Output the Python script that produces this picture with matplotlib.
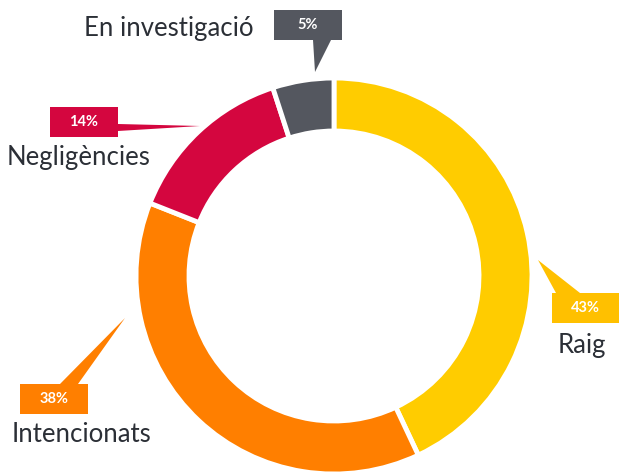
import matplotlib.pyplot as plt
from matplotlib.patches import Rectangle, Polygon

W, H = 619, 474

categories = ['Raig', 'Intencionats', 'Negligències', 'En investigació']
values = [43, 38, 14, 5]
pct_labels = ['43%', '38%', '14%', '5%']
colors = ['#FFCC00', '#FF7F00', '#D4063F', '#54575F']
box_colors = ['#FFC000', '#FF7F00', '#D4063F', '#54575F']

# callout layout in pixels (top-left origin): box (x, y, w, h), pointer tip, pointer base, label pos, label align
callouts = [
    dict(box=(552, 293, 67, 30), tip=(538, 260), base=[(556, 293), (580, 293)],
         label=(558, 346), ha='left'),
    dict(box=(20, 384, 68, 30), tip=(125, 318), base=[(60, 384), (78, 384)],
         label=(12, 434), ha='left'),
    dict(box=(50, 107, 68, 30), tip=(200, 126), base=[(118, 124), (118, 131)],
         label=(7, 157), ha='left'),
    dict(box=(274, 10, 68, 30), tip=(315, 72), base=[(313, 40), (331, 40)],
         label=(253, 28), ha='right'),
]

plt.rcParams['font.family'] = ['Lato', 'DejaVu Sans']

fig = plt.figure(figsize=(W / 100, H / 100), dpi=100)
ax = fig.add_axes([0, 0, 1, 1])

cx, cy, r = 334, 276, 198
ax.pie(values, colors=colors, startangle=90, counterclock=False,
       center=(cx, H - cy), radius=r,
       wedgeprops=dict(width=53, edgecolor='white', linewidth=3.5))

def P(x, y):
    return (x, H - y)

for c, pct, name, bc in zip(callouts, pct_labels, categories, box_colors):
    bx, by, bw, bh = c['box']
    ax.add_patch(Polygon([P(*c['tip']), P(*c['base'][0]), P(*c['base'][1])],
                         closed=True, facecolor=bc, edgecolor='none', zorder=3))
    ax.add_patch(Rectangle(P(bx, by + bh), bw, bh, facecolor=bc, edgecolor='none', zorder=4))
    ax.text(*P(bx + bw / 2, by + bh / 2), pct, color='white', fontsize=10.5,
            fontweight='bold', ha='center', va='center', zorder=5)
    ax.text(*P(*c['label']), name, color='#2B2F36', fontsize=18.5,
            ha=c['ha'], va='center', zorder=5)

ax.set_xlim(0, W)
ax.set_ylim(0, H)
ax.set_aspect('equal')
ax.axis('off')

fig.savefig('out.png', dpi=100)
